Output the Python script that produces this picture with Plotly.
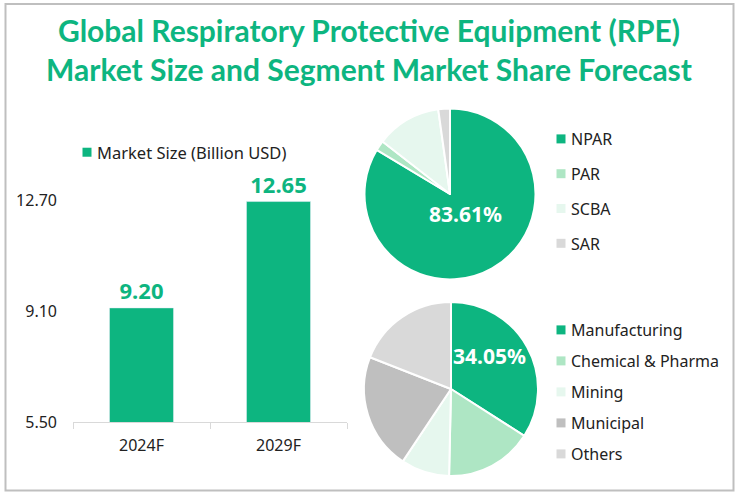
import plotly.graph_objects as go

TITLE = "Global Respiratory Protective Equipment (RPE)<br>Market Size and Segment Market Share Forecast"
years = ["2024F", "2029F"]
market_size = [9.20, 12.65]
market_labels = ["9.20", "12.65"]
y_ticks = [5.5, 9.1, 12.7]
y_tick_labels = ["5.50", "9.10", "12.70"]
rpe_types = ["NPAR", "PAR", "SCBA", "SAR"]
rpe_shares = [83.61, 1.9, 12.29, 2.2]
rpe_colors = ["#0DB580", "#AEE6C4", "#E6F7EE", "#D9D9D9"]
end_users = ["Manufacturing", "Chemical & Pharma", "Mining", "Municipal", "Others"]
end_shares = [34.05, 16.3, 9.0, 21.6, 19.05]
end_colors = ["#0DB580", "#AEE6C4", "#E6F7EE", "#BFBFBF", "#D9D9D9"]

GREEN = "#0DB580"
TEXT = "#222222"
FONT = "Noto Sans"
W, H = 738, 494
def fx(p): return p / W
def fy(p): return 1 - p / H

fig = go.Figure()
fig.add_trace(go.Bar(x=years, y=market_size, marker_color=GREEN, text=market_labels,
    textposition="outside", cliponaxis=False, width=0.467, showlegend=False,
    textfont=dict(size=22, color=GREEN, family=FONT, weight="bold")))
fig.add_trace(go.Pie(labels=rpe_types, values=rpe_shares, sort=False, direction="clockwise", rotation=0,
    domain=dict(x=[fx(364.5), fx(535.5)], y=[fy(280), fy(108)]), textinfo="none", showlegend=False,
    marker=dict(colors=rpe_colors, line=dict(color="white", width=2))))
fig.add_trace(go.Pie(labels=end_users, values=end_shares, sort=False, direction="clockwise", rotation=0,
    domain=dict(x=[fx(364), fx(538)], y=[fy(476), fy(302)]), textinfo="none", showlegend=False,
    marker=dict(colors=end_colors, line=dict(color="white", width=2))))

def legend_entry(name, color, legend):
    fig.add_trace(go.Scatter(x=[None], y=[None], mode="markers", name=name, legend=legend,
        legendgroup=name, marker=dict(symbol="square", size=9, color=color, line=dict(width=0))))

legend_entry("Market Size (Billion USD)", GREEN, "legend")
for n, c in zip(rpe_types, rpe_colors):
    legend_entry(n, c, "legend2")
for n, c in zip(end_users, end_colors):
    legend_entry(n, c, "legend3")

lg = dict(bgcolor="rgba(0,0,0,0)", font=dict(size=16, color=TEXT, family=FONT),
          itemclick=False, itemdoubleclick=False, xanchor="left", yanchor="top", itemwidth=30,
          traceorder="grouped")
tick_font = dict(size=16, color=TEXT, family=FONT)
big = dict(size=21, color="white", family=FONT, weight="bold")
fig.update_layout(
    width=W, height=H, autosize=False, paper_bgcolor="white", plot_bgcolor="rgba(0,0,0,0)",
    margin=dict(l=0, r=0, t=0, b=0, autoexpand=False), showlegend=True,
    title=dict(text=TITLE, x=0.5, xanchor="center", y=fy(41.5), yanchor="middle",
               font=dict(size=30, color=GREEN, family="Lato", weight="bold")),
    xaxis=dict(domain=[fx(73), fx(347)], showline=True, linecolor="#D9D9D9", ticks="outside",
               ticklen=6, tickcolor="#D9D9D9", tickfont=tick_font, showgrid=False, fixedrange=True,
               tickson="boundaries", ticklabelstandoff=9, range=[-0.5, 1.5], type="category"),
    yaxis=dict(domain=[fy(422), fy(200)], range=[5.5, 12.7], tickvals=y_ticks, ticktext=y_tick_labels,
               showline=False, showgrid=False, zeroline=False, ticks="", fixedrange=True,
               tickfont=tick_font, ticklabelstandoff=15),
    legend=dict(lg, x=fx(57), y=fy(135), font=dict(size=16.5, color=TEXT, family=FONT)),
    legend2=dict(lg, x=fx(531), y=fy(122), tracegroupgap=11),
    legend3=dict(lg, x=fx(531), y=fy(313), tracegroupgap=7.2),
    annotations=[
        dict(text="83.61%", x=fx(465), y=fy(214), xref="paper", yref="paper", showarrow=False, font=big),
        dict(text="34.05%", x=fx(490), y=fy(372), xref="paper", yref="paper", showarrow=False, font=big),
    ],
    shapes=[dict(type="rect", xref="paper", yref="paper", x0=fx(5.5), x1=fx(733.5), y0=fy(490.5), y1=fy(4),
                 line=dict(color="#BFBFBF", width=2), fillcolor="rgba(0,0,0,0)", layer="below")],
)
fig.write_html("out.html", config=dict(displayModeBar=False), post_script="""
document.documentElement.style.overflow='hidden';
document.body.style.margin='0';
document.querySelectorAll('.legendsymbols').forEach(function(s){s.setAttribute('transform','translate(10,0)');});
""")
